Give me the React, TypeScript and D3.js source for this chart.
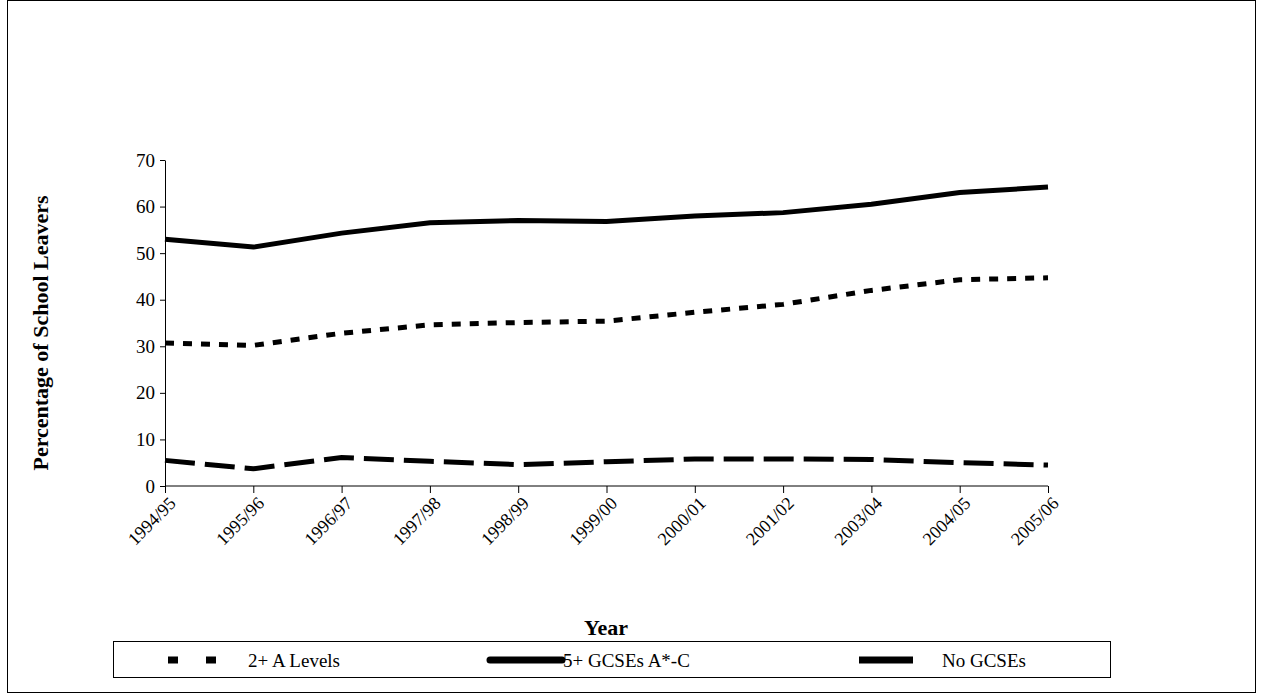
import React from 'react'
import * as d3 from 'd3'

const years = ['1994/95','1995/96','1996/97','1997/98','1998/99','1999/00','2000/01','2001/02','2003/04','2004/05','2005/06']
const aLevels = [30.7,30.2,32.8,34.6,35.1,35.4,37.3,39,42,44.3,44.7]
const gcses = [53,51.3,54.3,56.5,57,56.8,58,58.7,60.5,63,64.2]
const noGcses = [5.5,3.7,6.1,5.3,4.6,5.2,5.8,5.8,5.7,5,4.5]
const yTicks = [0,10,20,30,40,50,60,70]

const font = '"Liberation Serif", serif'

const App = () => {
  const ref = React.useRef<SVGSVGElement | null>(null)

  React.useEffect(() => {
    const svg = d3.select(ref.current)
    svg.selectAll('*').remove()
    const g = svg.append('g')
    const left = 165, right = 1048, top = 160, bottom = 486
    const x = d3.scalePoint().domain(years).range([left, right])
    const y = d3.scaleLinear().domain([0, 70]).range([bottom, top])

    g.append('rect').attr('x', 7.5).attr('y', 0.5).attr('width', 1248).attr('height', 692)
      .attr('fill', 'white').attr('stroke', 'black')

    const ya = g.append('g').attr('transform', `translate(${left},0)`)
      .call(d3.axisLeft(y).tickValues(yTicks).tickSize(5).tickSizeOuter(0))
    ya.selectAll('text').attr('font-family', font).attr('font-size', 19).attr('fill', 'black').attr('dx', -2)
    const xa = g.append('g').attr('transform', `translate(0,${bottom})`)
      .call(d3.axisBottom(x).tickSize(7).tickSizeOuter(0))
    xa.select('.domain').attr('d', `M${left},0H${right}`)
    xa.selectAll('text').attr('font-family', font).attr('font-size', 18).attr('fill', 'black')
      .attr('text-anchor', 'end').attr('transform', 'translate(7,14) rotate(-45)').attr('dy', '0.35em').attr('y', 0)

    const series = [
      { name: '2+ A Levels', v: aLevels, dash: '9,9' },
      { name: '5+ GCSEs A*-C', v: gcses, dash: null },
      { name: 'No GCSEs', v: noGcses, dash: '30,10' },
    ]
    const line = d3.line<number>().x((_, i) => x(years[i])!).y(d => y(d))
    series.forEach(s => {
      g.append('path').datum(s.v).attr('d', line).attr('fill', 'none').attr('stroke', 'black')
        .attr('stroke-width', 5).attr('stroke-dasharray', s.dash)
    })

    g.append('text')
      .attr('transform', `translate(48,${(top + bottom) / 2 + 10}) rotate(-90)`)
      .attr('text-anchor', 'middle').attr('font-family', font).attr('font-weight', 'bold')
      .attr('font-size', 22).text('Percentage of School Leavers')
    g.append('text').attr('x', 606).attr('y', 635).attr('text-anchor', 'middle')
      .attr('font-family', font).attr('font-weight', 'bold').attr('font-size', 22).text('Year')

    g.append('rect').attr('x', 113.5).attr('y', 641.5).attr('width', 997).attr('height', 36)
      .attr('fill', 'white').attr('stroke', 'black')
    const ly = 660
    const items = [
      { x1: 168, x2: 228, tx: 248, dash: '10,28', cap: 'butt' },
      { x1: 490, x2: 562, tx: 563, dash: null, cap: 'round' },
      { x1: 859, x2: 913, tx: 942, dash: null, cap: 'butt' },
    ]
    items.forEach((it, i) => {
      g.append('line').attr('x1', it.x1).attr('x2', it.x2).attr('y1', ly).attr('y2', ly)
        .attr('stroke', 'black').attr('stroke-width', 7).attr('stroke-dasharray', it.dash)
        .attr('stroke-linecap', it.cap)
      g.append('text').attr('x', it.tx).attr('y', ly).attr('dy', '0.35em')
        .attr('font-family', font).attr('font-size', 19).text(series[i].name)
    })
  }, [])

  return <svg ref={ref} width={1263} height={700} style={{ position: 'absolute', left: 0, top: 0 }}></svg>
}

export default App
